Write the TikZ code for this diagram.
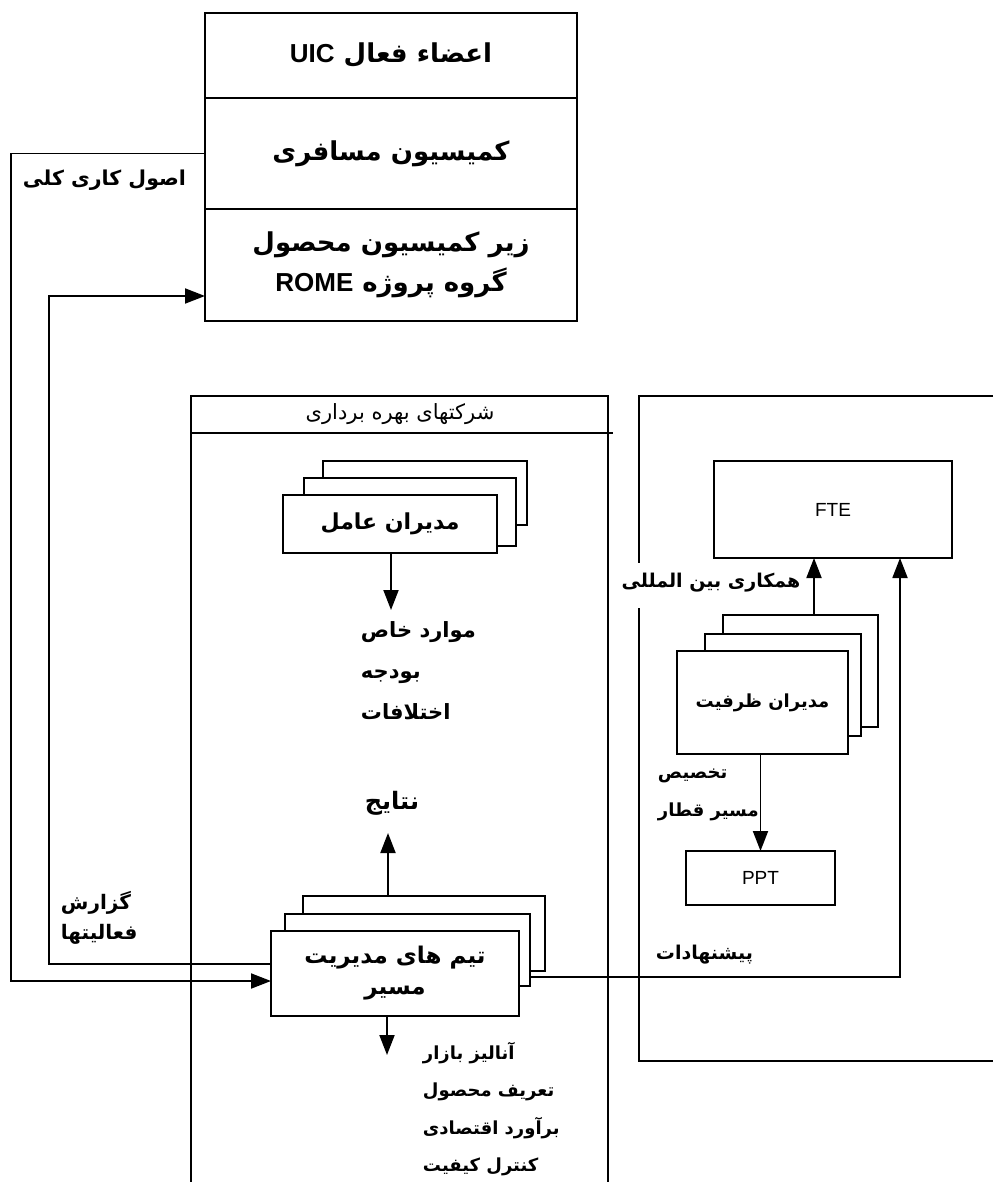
\documentclass[tikz,border=0pt]{standalone}
\usepackage{fontspec}
\setmainfont{Liberation Sans}
\newfontfamily\farsi[Script=Arabic]{DejaVu Sans}
\usetikzlibrary{arrows.meta}
\TeXXeTstate=1
\newcommand{\fa}[1]{{\farsi\beginR #1\endR}}
\newcommand{\lat}[1]{\beginL{\rmfamily #1}\endL}

\begin{document}
\begin{tikzpicture}[x=1pt, y=-1pt, line width=1.9pt,
	box/.style={draw, fill=white, inner sep=0pt, outer sep=0pt, align=center},
	arr/.style={-{Triangle[length=20pt, width=15pt]}},
	big/.style={font=\bfseries\fontsize{26}{40}\selectfont},
	mid/.style={font=\bfseries\fontsize{22}{30}\selectfont},
	txt/.style={inner sep=0pt, align=left, font=\bfseries\fontsize{19}{38}\selectfont}]
		\useasboundingbox (0,0) rectangle (993,1182);
		
		\node[box, big, minimum width=372pt, minimum height=85pt] (uic) at (391,55.5) {\fa{اعضاء فعال \lat{UIC}}};
		\node[box, big, minimum width=372pt, minimum height=111pt] (pass) at (391,153.5) {\fa{کمیسیون مسافری}};
		\node[box, big, minimum width=372pt, minimum height=112pt] (rome) at (391,265) {\fa{زیر کمیسیون محصول}\\\fa{گروه پروژه \lat{ROME}}};
		
		\draw (191,1182) |- (608,396) -- (608,1182);
		\draw (191,433) -- (613,433);
		\node[font=\fontsize{21}{24}\selectfont] (opco) at (400,414) {\fa{شرکتهای بهره برداری}};
		
		\draw (993,396) -| (639,563);
		\draw (639,608) |- (993,1061);
		
		\node[box, minimum width=204pt, minimum height=64pt] (exec3) at (425,493) {};
		\node[box, minimum width=212pt, minimum height=68pt] (exec2) at (410,512) {};
		\node[box, mid, minimum width=214pt, minimum height=58pt] (exec) at (390,524) {\fa{مدیران عامل}};
		\coordinate (specialsin) at (391,610);
		\node[txt, anchor=north west, font=\bfseries\fontsize{21}{41}\selectfont] (specials) at (360,621) {\fa{موارد خاص}\\\fa{بودجه}\\\fa{اختلافات}};
		
		\node[txt, font=\bfseries\fontsize{24}{28}\selectfont] (results) at (392,803) {\fa{نتایج}};
		\coordinate (resultsin) at (388,833);
		\node[box, minimum width=242pt, minimum height=75pt] (team3) at (424,933.5) {};
		\node[box, minimum width=245pt, minimum height=72pt] (team2) at (407.5,950) {};
		\node[box, minimum width=248pt, minimum height=85pt, font=\bfseries\fontsize{23}{31}\selectfont] (team) at (395,973.5) {\fa{تیم های مدیریت}\\\fa{مسیر}};
		\coordinate (marketin) at (387,1055);
		\node[txt, anchor=north west, font=\bfseries\fontsize{18}{37.5}\selectfont] (market) at (422,1041) {\fa{آنالیز بازار}\\\fa{تعریف محصول}\\\fa{برآورد اقتصادی}\\\fa{کنترل کیفیت}};
		
		\node[box, minimum width=238pt, minimum height=97pt, font=\fontsize{19}{22}\selectfont] (fte) at (833,509.5) {FTE};
		\node[txt] (intl) at (711,583) {\fa{همکاری بین المللی}};
		\node[box, minimum width=155pt, minimum height=112pt] (cap3) at (800.5,671) {};
		\node[box, minimum width=156pt, minimum height=102pt] (cap2) at (783,685) {};
		\node[box, minimum width=171pt, minimum height=103pt, font=\bfseries\fontsize{18}{22}\selectfont] (cap) at (762.5,702.5) {\fa{مدیران ظرفیت}};
		\node[txt, anchor=north west, font=\bfseries\fontsize{18}{38}\selectfont] (alloc) at (657,768) {\fa{تخصیص}\\\fa{مسیر قطار}};
		\node[box, minimum width=149pt, minimum height=54pt, font=\fontsize{19}{22}\selectfont] (ppt) at (760.5,878) {PPT};
		\node[txt, anchor=west] (prop) at (655,955) {\fa{پیشنهادات}};
		
		\node[txt, anchor=west, font=\bfseries\fontsize{20.5}{26}\selectfont] (rules) at (22,180) {\fa{اصول کاری کلی}};
		\node[txt, anchor=north west, font=\bfseries\fontsize{20}{30}\selectfont] (report) at (60,890) {\fa{گزارش}\\\fa{فعالیتها}};
		
		\draw[arr] (pass.west) -- ++(-194,0) |- ([yshift=-7.5pt]team.west);
		\draw[arr] ([yshift=9.5pt]team.west) -- ++(-222,0) |- ([yshift=-31pt]rome.west);
		\draw[arr] (exec.south -| specialsin) -- (specialsin);
		\draw[arr] (team3.north -| resultsin) -- (resultsin);
		\draw[arr] (team.south -| marketin) -- (marketin);
		\draw[arr] ([xshift=13.5pt]cap3.north) -- ([xshift=-19pt]fte.south);
		\draw[arr] (cap.south -| ppt.north) -- (ppt.north);
		\draw[arr] ([yshift=-27pt]team2.east) -| ([xshift=67pt]fte.south);
	\end{tikzpicture}
\end{document}
